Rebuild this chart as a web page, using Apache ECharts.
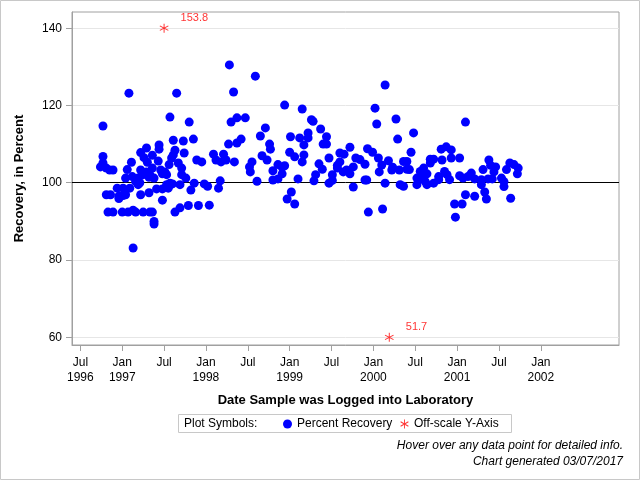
<!DOCTYPE html>
<html>
<head>
<meta charset="utf-8">
<script src="https://cdn.jsdelivr.net/npm/echarts@6/dist/echarts.min.js"></script>
<style>html,body{margin:0;padding:0;background:#fff}#c{width:640px;height:480px}</style>
</head>
<body>
<div id="c"></div>
<script>
// Dates as decimal years (Jul 1 = .5), recovery in percent
const recoveryDates = [
 1997.08,1997.65,1997.57,1997.80,1996.77,1997.85,1997.61,1997.73,1997.44,1997.29,
 1997.44,1997.63,1997.22,1997.74,1997.36,1997.61,1996.77,1997.26,1997.59,1997.43,
 1997.89,1997.11,1997.30,1996.77,1997.67,1997.56,1996.74,1996.81,1996.85,1996.89,
 1997.71,1997.06,1997.36,1997.22,1997.46,1997.51,1997.48,1997.53,1997.71,1997.76,
 1997.29,1997.33,1997.25,1997.32,1997.38,1997.12,1997.04,1997.19,1997.16,1997.21,
 1997.19,1997.57,1997.53,1997.60,1997.69,1997.86,1996.94,1997.01,1997.09,1997.41,
 1997.48,1997.55,1997.82,1996.81,1996.86,1996.96,1997.01,1996.96,1997.04,1997.22,
 1997.32,1997.48,1996.83,1996.89,1997.00,1997.07,1997.13,1997.16,1997.25,1997.33,
 1997.36,1997.38,1997.38,1997.63,1997.69,1997.79,1997.91,1997.13,
 1998.28,1998.59,1998.33,1998.94,1999.15,1998.37,1998.30,1998.47,1998.71,1998.65,
 1999.01,1999.12,1998.42,1998.37,1998.27,1998.76,1998.77,1999.00,1999.06,1999.17,
 1999.17,1999.15,1998.09,1998.21,1998.12,1998.18,1998.24,1998.34,1997.95,1998.67,
 1998.73,1998.55,1998.52,1998.53,1998.86,1998.91,1998.94,1998.91,1998.80,1998.61,
 1998.80,1998.86,1999.10,1997.98,1998.02,1998.17,1998.15,1999.02,1998.97,1999.06,1998.04,
 2000.14,2000.02,2000.04,2000.27,2000.29,1999.26,1999.28,1999.37,1999.22,1999.22,
 1999.44,1999.40,1999.44,1999.72,1999.47,1999.60,1999.65,1999.35,1999.39,1999.60,
 1999.57,1999.57,1999.79,1999.84,1999.90,1999.76,1999.93,1999.99,2000.06,2000.10,
 2000.18,2000.23,2000.22,2000.31,2000.36,2000.40,2000.40,2000.45,2000.07,1999.64,
 1999.68,1999.72,1999.31,1999.29,1999.51,1999.51,1999.47,1999.90,1999.92,1999.76,
 2000.14,2000.32,2000.36,1999.94,2000.11,
 2001.10,2000.48,2000.43,2000.81,2000.87,2000.93,2000.68,2000.72,2000.68,2000.82,
 2000.93,2001.03,2000.60,2000.56,2000.64,2000.52,2000.58,2000.62,2000.52,2000.64,
 2000.72,2000.78,2000.78,2000.85,2000.88,2000.91,2001.03,2001.07,2001.13,2001.17,
 2001.21,2001.29,2001.29,2001.31,2001.38,2001.40,2001.46,2001.44,2001.37,2001.42,
 2001.53,2001.56,2001.56,2001.59,2001.63,2001.68,2001.73,2001.72,2001.10,2001.21,
 2001.33,2001.35,2000.97,2001.06,2000.98,2001.64
];
const recoveryValues = [
 123.2,123.2,117.0,115.7,114.7,111.3,111.0,110.8,109.8,109.0,
 108.7,108.4,107.8,107.7,107.1,107.2,106.8,106.5,106.4,105.6,
 105.9,105.3,105.3,105.1,105.1,104.7,104.1,103.8,103.3,103.3,
 103.8,103.4,103.8,103.3,103.3,102.8,102.3,102.1,102.1,101.2,
 102.8,102.1,102.1,101.4,101.2,101.6,101.2,101.2,100.3,100.0,
 99.5,99.9,99.5,99.7,99.5,99.9,98.6,98.6,98.6,98.4,
 98.4,98.6,98.1,96.9,96.9,96.5,96.7,95.9,96.9,96.9,
 97.4,95.5,92.4,92.4,92.4,92.4,92.9,92.4,92.4,92.4,
 92.4,90.0,89.3,92.4,93.5,94.1,94.1,83.1,
 130.5,127.6,123.5,120.1,119.1,116.8,115.7,116.8,114.2,112.1,
 111.9,111.6,111.3,110.3,110.0,110.0,108.7,107.9,106.7,109.8,
 107.2,105.4,107.4,107.4,105.9,105.4,105.9,105.4,105.4,107.0,
 105.9,105.4,104.1,102.8,104.7,104.0,104.4,102.3,103.1,100.4,
 100.7,101.0,101.0,99.7,99.1,100.5,98.6,97.6,95.8,94.5,94.2,
 125.3,119.3,115.2,116.5,111.3,116.3,115.9,113.9,112.9,111.6,
 111.9,110.0,110.0,109.2,106.4,107.7,107.4,104.9,103.5,105.4,
 104.5,103.8,106.4,106.0,104.8,104.1,108.8,107.9,106.4,104.6,
 105.7,104.0,103.3,103.3,105.5,105.5,103.5,107.9,102.8,102.8,
 103.3,102.3,102.1,100.5,102.1,100.6,99.9,100.7,100.7,98.9,
 99.9,99.5,99.1,92.4,93.2,
 115.7,112.9,103.4,108.7,109.3,108.5,106.1,106.1,105.1,105.9,
 106.4,106.4,103.8,102.9,102.3,101.2,101.0,100.3,99.5,99.5,
 99.9,101.6,100.8,102.9,102.1,100.8,101.8,101.2,101.6,102.5,
 101.0,100.8,99.5,103.4,105.9,104.5,104.1,102.8,101.0,101.0,
 101.2,100.3,99.0,103.4,105.1,104.7,103.8,102.3,96.9,96.5,
 97.6,95.8,94.5,94.5,91.1,96.0
];
// Off-scale points: date, plotted position (axis edge), actual value
const offscaleDates = [1997.50, 2000.19];
const offscalePlotted = [140, 60];
const offscaleActual = [153.8, 51.7];

const xTicks = [1996.5,1997,1997.5,1998,1998.5,1999,1999.5,2000,2000.5,2001,2001.5,2002];
const yTicks = [60,80,100,120,140];
const referenceLevel = 100;

const FONT = '"Liberation Sans", Arial, sans-serif';
const starPath = 'path://M0.5,-5L-0.5,-5L-0.5,5L0.5,5Z M4.08,2.93L4.58,2.07L-4.08,-2.93L-4.58,-2.07Z M-4.58,2.07L-4.08,2.93L4.58,-2.07L4.08,-2.93Z';

const chart = echarts.init(document.getElementById('c'), null, {renderer:'canvas'});
const recData = recoveryDates.map((d,i)=>[d, recoveryValues[i]]);
const offData = offscaleDates.map((d,i)=>[d, offscalePlotted[i], offscaleActual[i]]);

function xLabel(v){
  const isJan = Math.abs(v-Math.round(v))<0.01;
  if (isJan) return 'Jan\n'+Math.round(v);
  if (Math.abs(v-xTicks[0])<0.01) return 'Jul\n'+Math.floor(v);
  return 'Jul';
}

chart.setOption({
  animation:false,
  textStyle:{fontFamily:FONT},
  grid:{left:72,right:21,top:12,bottom:135,show:true,borderColor:'#a0a0a0',borderWidth:1,backgroundColor:'transparent'},
  tooltip:{trigger:'item'},
  legend:{
    data:[{name:'Percent Recovery',icon:'circle'},{name:'Off-scale Y-Axis',icon:starPath}],
    left:283, top:418, padding:0, itemWidth:9, itemHeight:9, itemGap:8,
    selectedMode:false,
    textStyle:{fontSize:12,color:'#000',fontFamily:FONT}
  },
  xAxis:{
    type:'value', min:1996.40, max:2002.934,
    name:'Date Sample was Logged into Laboratory', nameLocation:'middle', nameGap:49,
    nameTextStyle:{fontWeight:'bold',fontSize:13,color:'#000',fontFamily:FONT},
    axisLine:{lineStyle:{color:'#a0a0a0'}},
    axisTick:{customValues:xTicks,length:6,lineStyle:{color:'#a0a0a0'}},
    axisLabel:{customValues:xTicks,margin:10,lineHeight:15,fontSize:12,color:'#000',fontFamily:FONT,
      verticalAlign:'top',formatter:xLabel},
    splitLine:{show:false}
  },
  yAxis:{
    type:'value', min:58, max:144.2,
    name:'Recovery, in Percent', nameLocation:'middle', nameGap:46,
    nameTextStyle:{fontWeight:'bold',fontSize:13,color:'#000',fontFamily:FONT},
    axisLine:{show:true,lineStyle:{color:'#a0a0a0'}},
    axisTick:{show:true,customValues:yTicks,length:6,lineStyle:{color:'#a0a0a0'}},
    axisLabel:{customValues:yTicks,margin:10,fontSize:12,color:'#000',fontFamily:FONT},
    splitLine:{show:true,lineStyle:{color:'#e6e6e6',width:1}}
  },
  series:[
    {type:'line',data:[],z:1,silent:true,
      markLine:{silent:true,symbol:'none',z:1,label:{show:false},
        lineStyle:{color:'#000',width:1,type:'solid'},
        data:[{yAxis:referenceLevel}]}},
    {name:'Percent Recovery',type:'scatter',z:3,data:recData,symbol:'circle',symbolSize:9,
      itemStyle:{color:'#0000ff',opacity:1}},
    {name:'Off-scale Y-Axis',type:'scatter',z:4,data:offData,symbol:starPath,symbolSize:9,
      itemStyle:{color:'#ff0000'},
      label:{show:true,position:'right',distance:5,offset:[7,-10],color:'#ff0000',fontSize:11,fontFamily:FONT,
        formatter:p=>p.value[2].toFixed(1)}}
  ],
  graphic:[
    {type:'rect',shape:{x:0.5,y:0.5,width:639,height:479},style:{fill:'none',stroke:'#c8c8c8',lineWidth:1},silent:true},
    {type:'rect',shape:{x:178.5,y:414.5,width:333,height:18},style:{fill:'none',stroke:'#c8c8c8',lineWidth:1},silent:true},
    {type:'text',x:184,y:424,style:{text:'Plot Symbols:',font:'12px '+FONT,fill:'#000',verticalAlign:'middle'},silent:true},
    {type:'text',x:623,y:446,style:{text:'Hover over any data point for detailed info.',font:'italic 12px '+FONT,fill:'#000',textAlign:'right',verticalAlign:'middle'},silent:true},
    {type:'text',x:623,y:462,style:{text:'Chart generated 03/07/2017',font:'italic 12px '+FONT,fill:'#000',textAlign:'right',verticalAlign:'middle'},silent:true}
  ]
});
</script>
</body>
</html>
